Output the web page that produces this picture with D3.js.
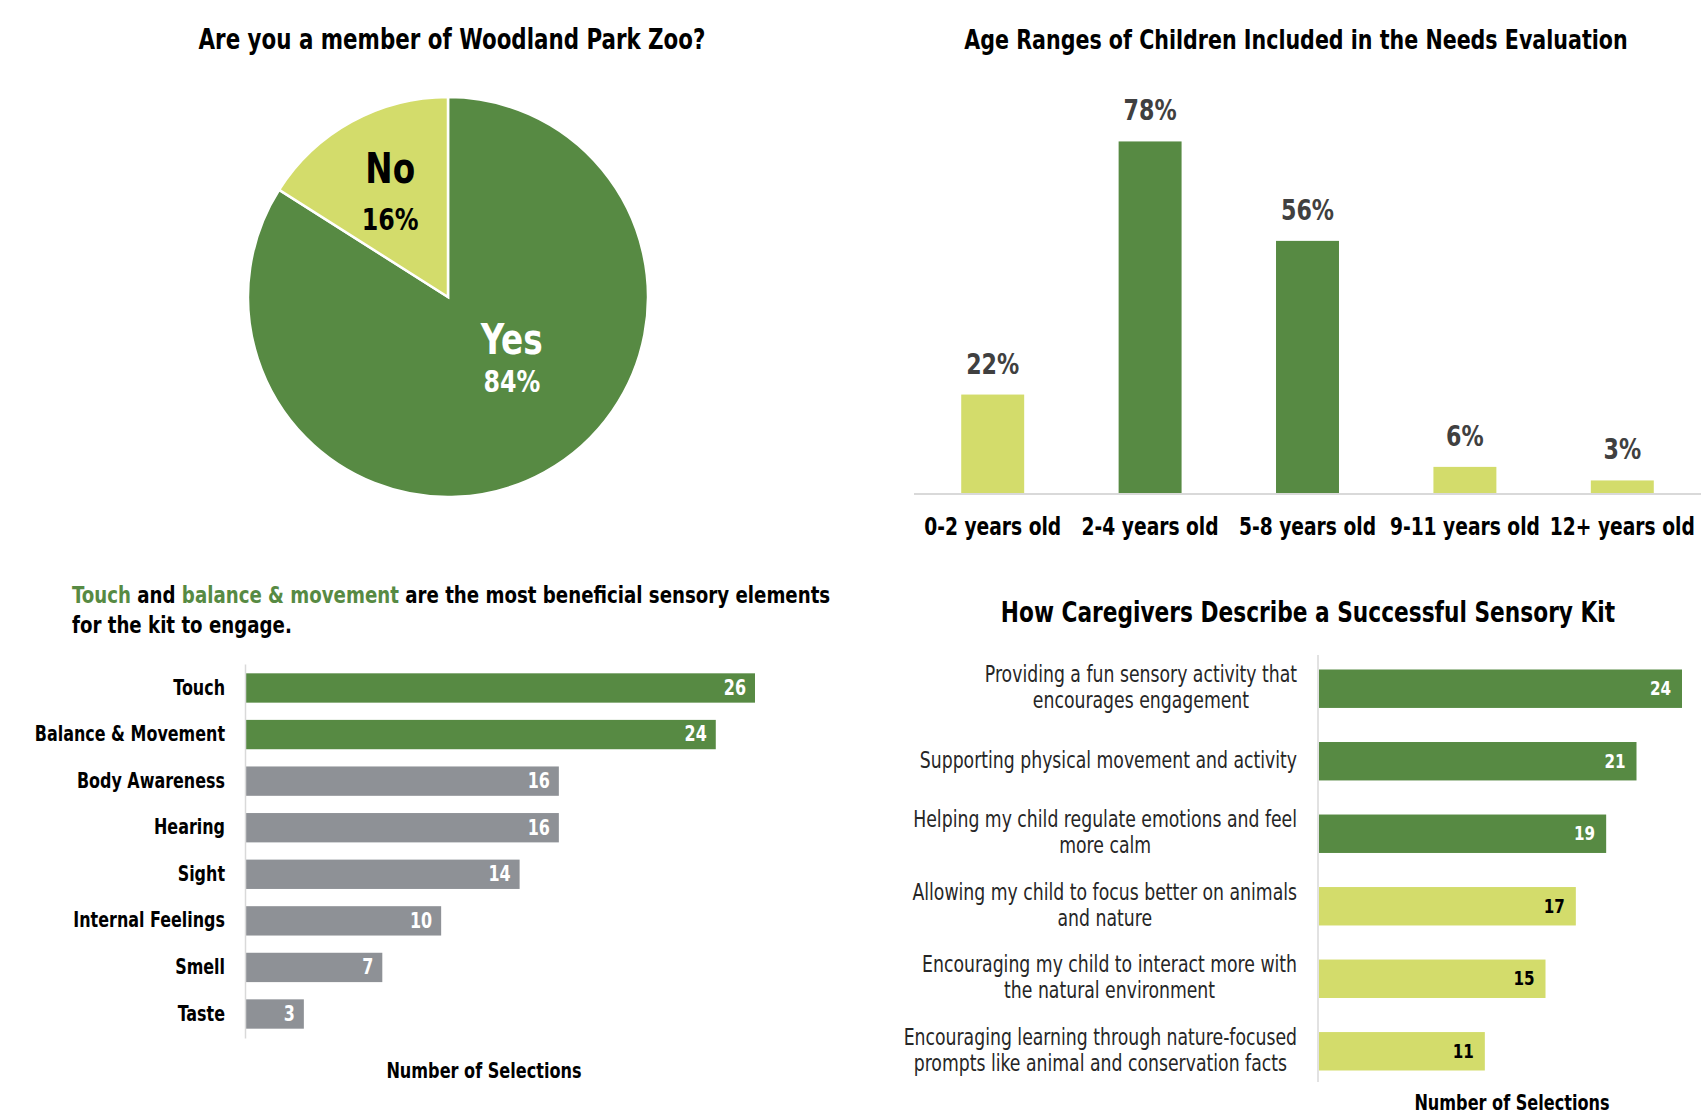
<!DOCTYPE html>
<html>
<head>
<meta charset="utf-8">
<script src="https://cdn.jsdelivr.net/npm/d3@7"></script>
<style>
  body { margin: 0; background: #fff; }
  svg { display: block; }
  text { font-family: 'DejaVu Sans Condensed', 'DejaVu Sans', 'Liberation Sans', sans-serif; }
</style>
</head>
<body>
<div id="chart"></div>
<script>
'use strict';

// ---- data ----
const memberLabels = ["Yes", "No"];
const memberShare = [84, 16];

const ageRanges = ["0-2 years old", "2-4 years old", "5-8 years old", "9-11 years old", "12+ years old"];
const agePct = [22, 78, 56, 6, 3];
const ageHighlight = [false, true, true, false, false];

const senses = ["Touch", "Balance & Movement", "Body Awareness", "Hearing", "Sight", "Internal Feelings", "Smell", "Taste"];
const senseCounts = [26, 24, 16, 16, 14, 10, 7, 3];
const senseHighlight = [true, true, false, false, false, false, false, false];

const kitTraits = [
    ["Providing a fun sensory activity that", "encourages engagement"],
    ["Supporting physical movement and activity"],
    ["Helping my child regulate emotions and feel", "more calm"],
    ["Allowing my child to focus better on animals", "and nature"],
    ["Encouraging my child to interact more with", "the natural environment"],
    ["Encouraging learning through nature-focused", "prompts like animal and conservation facts"]
];
const kitCounts = [24, 21, 19, 17, 15, 11];
const kitHighlight = [true, true, true, false, false, false];

const green = "#578a43",
    lime = "#d3dc6b",
    grey = "#8e9196",
    axisGrey = "#d9d9d9";

const width = 1701, height = 1117;
const SX = 0.865; // narrow the type further, the original uses a tall narrow face

const svg = d3.select("#chart").append("svg")
    .attr("width", width)
    .attr("height", height);

function condense(sel) {
    sel.each(function() {
        const a = getComputedStyle(this).textAnchor;
        this.style.transformBox = "fill-box";
        this.style.transformOrigin = a === "middle" ? "center" : (a === "end" ? "right" : "left");
        this.style.transform = `scaleX(${SX})`;
    });
}

// ---- pie: membership ----
{
    const cx = 448, cy = 297, r = 200;
    svg.append("text")
        .attr("x", 452).attr("y", 41)
        .attr("text-anchor", "middle")
        .attr("dominant-baseline", "middle")
        .attr("font-size", 27.5).attr("font-weight", "bold")
        .attr("fill", "#000")
        .text("Are you a member of Woodland Park Zoo?");

    const pie = d3.pie().sort(null)
        .startAngle(0).endAngle(2 * Math.PI);
    const arcs = pie(memberShare);
    const arc = d3.arc().innerRadius(0).outerRadius(r);
    const labelArc = d3.arc().innerRadius(r * 0.6).outerRadius(r * 0.6);

    const g = svg.append("g").attr("transform", `translate(${cx},${cy})`);
    g.selectAll("path")
        .data(arcs)
        .join("path")
        .attr("d", arc)
        .attr("fill", (d, i) => i === 0 ? green : lime)
        .attr("stroke", "#fff")
        .attr("stroke-width", 2.5);

    const nudge = [[6, -40], [0, 4]];
    const gap = [[-19, 21], [-24, 26]];
    const lab = g.selectAll(".plab")
        .data(arcs)
        .join("g")
        .attr("class", "plab")
        .attr("transform", (d, i) => {
            const c = labelArc.centroid(d);
            return `translate(${c[0] + nudge[i][0]},${c[1] + nudge[i][1]})`;
        });
    lab.append("text")
        .attr("text-anchor", "middle")
        .attr("y", (d, i) => gap[i][0])
        .attr("dominant-baseline", "middle")
        .attr("font-size", 42).attr("font-weight", "bold")
        .attr("fill", (d, i) => i === 0 ? "#fff" : "#000")
        .text((d, i) => memberLabels[i]);
    lab.append("text")
        .attr("text-anchor", "middle")
        .attr("y", (d, i) => gap[i][1])
        .attr("dominant-baseline", "middle")
        .attr("font-size", 30.5).attr("font-weight", "bold")
        .attr("fill", (d, i) => i === 0 ? "#fff" : "#000")
        .text(d => d.data + "%");
}

// ---- column chart: age ranges ----
{
    const base = 494;
    const x = d3.scaleBand().domain(ageRanges).range([914, 1701]).paddingInner(0.6).paddingOuter(0.3);
    const y = d3.scaleLinear().domain([0, 100]).range([base, 42]);

    svg.append("text")
        .attr("x", 1296).attr("y", 42)
        .attr("text-anchor", "middle")
        .attr("dominant-baseline", "middle")
        .attr("font-size", 26.5).attr("font-weight", "bold")
        .attr("fill", "#000")
        .text("Age Ranges of Children Included in the Needs Evaluation");

    svg.selectAll(".age")
        .data(agePct)
        .join("rect")
        .attr("class", "age")
        .attr("x", (d, i) => x(ageRanges[i]))
        .attr("width", x.bandwidth())
        .attr("y", d => y(d))
        .attr("height", d => base - y(d))
        .attr("fill", (d, i) => ageHighlight[i] ? green : lime);

    svg.selectAll(".agelab")
        .data(agePct)
        .join("text")
        .attr("class", "agelab")
        .attr("x", (d, i) => x(ageRanges[i]) + x.bandwidth() / 2)
        .attr("y", d => y(d) - 29)
        .attr("text-anchor", "middle")
        .attr("dominant-baseline", "middle")
        .attr("font-size", 28.5).attr("font-weight", "bold")
        .attr("fill", "#404040")
        .text(d => d + "%");

    const xAxis = d3.axisBottom(x).tickSize(0).tickPadding(24);
    const ax = svg.append("g")
        .attr("transform", `translate(0,${base})`)
        .call(xAxis);
    ax.select(".domain").attr("stroke", axisGrey).attr("stroke-width", 2)
        .attr("d", `M914,0H1701`);
    ax.selectAll("text")
        .attr("text-anchor", "middle")
        .attr("font-size", 24).attr("font-weight", "bold")
        .attr("fill", "#000");
}

// ---- horizontal bars: senses ----
{
    const x0 = 245;
    const x = d3.scaleLinear().domain([0, 26]).range([x0, 755]);
    const y = d3.scaleBand().domain(senses).range([664, 1038]).paddingInner(0.37).paddingOuter(0.2);

    const sub = svg.append("text")
        .attr("x", 72).attr("y", 597)
        .attr("dominant-baseline", "middle")
        .attr("font-size", 23.4).attr("font-weight", "bold")
        .attr("fill", "#000");
    sub.append("tspan").attr("fill", green).text("Touch");
    sub.append("tspan").text(" and ");
    sub.append("tspan").attr("fill", green).text("balance & movement");
    sub.append("tspan").text(" are the most beneficial sensory elements");
    svg.append("text")
        .attr("x", 72).attr("y", 627)
        .attr("dominant-baseline", "middle")
        .attr("font-size", 23.4).attr("font-weight", "bold")
        .attr("fill", "#000")
        .text("for the kit to engage.");

    svg.selectAll(".sense")
        .data(senseCounts)
        .join("rect")
        .attr("class", "sense")
        .attr("x", x0 + 1)
        .attr("y", (d, i) => y(senses[i]))
        .attr("height", y.bandwidth())
        .attr("width", d => x(d) - x0 - 1)
        .attr("fill", (d, i) => senseHighlight[i] ? green : grey);

    svg.selectAll(".senselab")
        .data(senseCounts)
        .join("text")
        .attr("class", "senselab")
        .attr("x", d => x(d) - 9)
        .attr("y", (d, i) => y(senses[i]) + y.bandwidth() / 2 + 1)
        .attr("text-anchor", "end")
        .attr("dominant-baseline", "middle")
        .attr("font-size", 20.5).attr("font-weight", "bold")
        .attr("fill", "#fff")
        .text(d => d);

    const yAxis = d3.axisLeft(y).tickSize(0).tickPadding(20);
    const ay = svg.append("g")
        .attr("transform", `translate(${x0},0)`)
        .call(yAxis);
    ay.select(".domain").attr("stroke", axisGrey).attr("stroke-width", 1.5);
    ay.selectAll("text")
        .attr("text-anchor", "end")
        .attr("font-size", 20.5).attr("font-weight", "bold")
        .attr("fill", "#000");

    svg.append("text")
        .attr("x", 484).attr("y", 1072)
        .attr("text-anchor", "middle")
        .attr("dominant-baseline", "middle")
        .attr("font-size", 20.7).attr("font-weight", "bold")
        .attr("fill", "#000")
        .text("Number of Selections");
}

// ---- horizontal bars: successful kit ----
{
    const x0 = 1318;
    const x = d3.scaleLinear().domain([0, 24]).range([x0, 1682]);
    const keys = kitTraits.map(d => d.join(" "));
    const y = d3.scaleBand().domain(keys).range([655, 1085]).paddingInner(0.47).paddingOuter(0.2);

    svg.append("text")
        .attr("x", 1308).attr("y", 614)
        .attr("text-anchor", "middle")
        .attr("dominant-baseline", "middle")
        .attr("font-size", 27.9).attr("font-weight", "bold")
        .attr("fill", "#000")
        .text("How Caregivers Describe a Successful Sensory Kit");

    svg.append("line")
        .attr("x1", x0).attr("x2", x0)
        .attr("y1", 655).attr("y2", 1082)
        .attr("stroke", axisGrey).attr("stroke-width", 1.5);

    svg.selectAll(".kit")
        .data(kitCounts)
        .join("rect")
        .attr("class", "kit")
        .attr("x", x0 + 1)
        .attr("y", (d, i) => y(keys[i]))
        .attr("height", y.bandwidth())
        .attr("width", d => x(d) - x0 - 1)
        .attr("fill", (d, i) => kitHighlight[i] ? green : lime);

    svg.selectAll(".kitlab")
        .data(kitCounts)
        .join("text")
        .attr("class", "kitlab")
        .attr("x", d => x(d) - 11)
        .attr("y", (d, i) => y(keys[i]) + y.bandwidth() / 2 + 1)
        .attr("text-anchor", "end")
        .attr("dominant-baseline", "middle")
        .attr("font-size", 19.5).attr("font-weight", "bold")
        .attr("fill", (d, i) => kitHighlight[i] ? "#fff" : "#000")
        .text(d => d);

    // category labels: block right-aligned, lines centred on each other
    const right = 1297, lineH = 26;
    kitTraits.forEach((lines, i) => {
        const cy = y(keys[i]) + y.bandwidth() / 2;
        const g = svg.append("g");
        const texts = g.selectAll("text")
            .data(lines)
            .join("text")
            .attr("y", (d, j) => cy + (j - (lines.length - 1) / 2) * lineH)
            .attr("text-anchor", "middle")
            .attr("dominant-baseline", "middle")
            .attr("font-size", 22.2)
            .attr("fill", "#262626")
            .text(d => d);
        let w = 0;
        texts.each(function() { w = Math.max(w, this.getComputedTextLength()); });
        texts.attr("x", right - SX * w / 2);
    });

    svg.append("text")
        .attr("x", 1512).attr("y", 1104)
        .attr("text-anchor", "middle")
        .attr("dominant-baseline", "middle")
        .attr("font-size", 20.7).attr("font-weight", "bold")
        .attr("fill", "#000")
        .text("Number of Selections");
}

condense(svg.selectAll("text"));
</script>
</body>
</html>
